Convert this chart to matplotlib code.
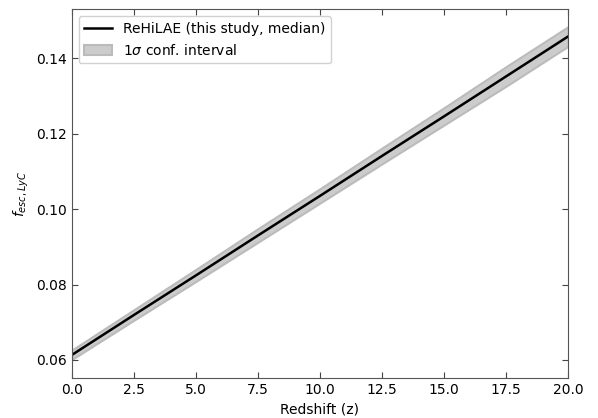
"""
Escape fraction of LyC photons versus redshift, ReHiLAE median with 1 sigma band.
"""

import matplotlib
matplotlib.use("Agg")
import matplotlib.pyplot as plt
import numpy as np

# Median relation and 1-sigma band
z = [0.0, 2.5, 5.0, 7.5, 10.0, 12.5, 15.0, 17.5, 20.0]
f_median = [0.0613, 0.0719, 0.0824, 0.0930, 0.1035, 0.1141, 0.1246, 0.1352, 0.1458]
f_low = [0.0601, 0.0705, 0.0808, 0.0912, 0.1016, 0.1120, 0.1223, 0.1326, 0.1432]
f_high = [0.0626, 0.0733, 0.0840, 0.0948, 0.1054, 0.1162, 0.1269, 0.1378, 0.1484]

fig = plt.figure(figsize=(5.98, 4.18), dpi=100)
ax = fig.add_axes([0.120, 0.0957, 0.830, 0.882])

band = ax.fill_between(z, f_low, f_high, facecolor="#cccccc", edgecolor="#bbbbbb",
                       linewidth=1.5, label=r"1$\sigma$ conf. interval")
line, = ax.plot(z, f_median, color="black", linewidth=1.8,
                label="ReHiLAE (this study, median)")

ax.set_xlim(0, 20)
ax.set_ylim(0.0552, 0.153)
ax.set_xticks(np.arange(0, 20.1, 2.5))
ax.set_yticks([0.06, 0.08, 0.10, 0.12, 0.14])
ax.set_xlabel("Redshift (z)", fontsize=10)
ax.set_ylabel(r"$f_{esc,LyC}$", fontsize=10)

ax.tick_params(direction="in", top=True, right=True, labelsize=10,
               length=4, color="#444444")
for sp in ax.spines.values():
    sp.set_color("#555555")

ax.legend(handles=[line, band], loc="upper left", fontsize=10, framealpha=0.9,
          edgecolor="#cccccc", handlelength=2.0, borderaxespad=0.5)

fig.savefig("out.png", dpi=100)
plt.close(fig)
